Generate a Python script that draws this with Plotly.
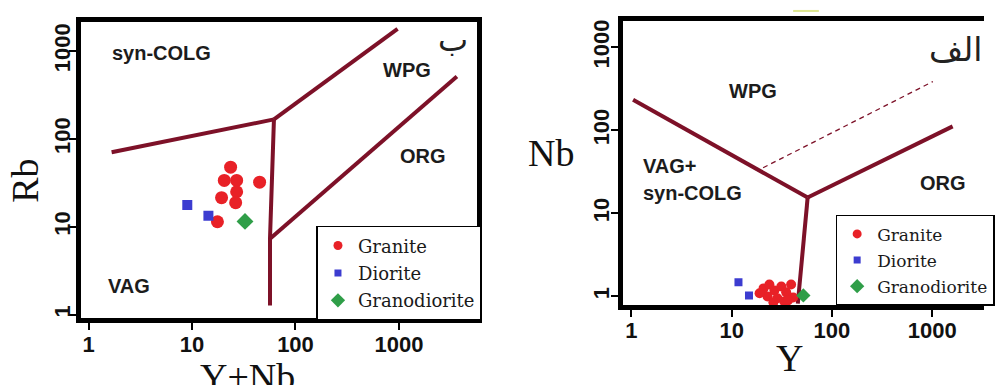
import plotly.graph_objects as go

# ---------------- data ----------------
TICK_VALS = [1, 10, 100, 1000]
TICK_TEXT = ["1", "10", "100", "1000"]

# Left panel: Rb vs (Y+Nb)
granite_ynb = [23.6, 20.5, 27.0, 27.0, 19.3, 26.4, 45.0, 17.6]
granite_rb = [47.7, 33.7, 33.7, 25.0, 21.4, 18.8, 32.2, 11.4]
diorite_ynb = [9.0, 14.4]
diorite_rb = [17.7, 13.3]
granodiorite_ynb = [32.5]
granodiorite_rb = [11.5]

# Left panel boundaries
b_vag_syn_x = [1.67, 61.9]
b_vag_syn_y = [70.5, 166.7]
b_syn_wpg_x = [61.9, 970]
b_syn_wpg_y = [166.7, 1789]
b_vag_wpg_x = [61.9, 56.7, 56.7]
b_vag_wpg_y = [166.7, 7.3, 1.27]
b_wpg_org_x = [56.7, 3631]
b_wpg_org_y = [7.3, 512]

# Right panel: Nb vs Y
granite_y = [20.8, 23.8, 26.7, 22.8, 28.6, 31.3, 35.0, 39.2, 41.1, 33.5, 26.1, 19.0, 36.6]
granite_nb = [1.25, 1.39, 1.18, 1.00, 0.95, 1.32, 1.12, 1.39, 0.97, 0.87, 0.85, 1.09, 0.90]
diorite_y = [11.7, 14.9]
diorite_nb = [1.48, 1.03]
granodiorite_y = [51.9]
granodiorite_nb = [1.03]

# Right panel boundaries
r_left_x = [1.04, 57.3]
r_left_y = [233, 15.5]
r_right_x = [57.3, 1600]
r_right_y = [15.5, 111.6]
r_down_x = [57.3, 45.7]
r_down_y = [15.5, 0.818]
r_dash_x = [20.6, 1016]
r_dash_y = [35.4, 386]

# ---------------- styles ----------------
W, H = 995, 385
LINE_COLOR = "#7d1128"
RED = "#e82127"
BLUE = "#3c3cd0"
GREEN = "#2f9e48"
LABEL_FONT = dict(family="Liberation Sans, Arial", size=20, color="#1c1c1c", weight=700)
TITLE_FONT = dict(family="Liberation Serif, Times New Roman", size=38, color="#111")


def px(x):
    return x / W


def py(y):
    return 1 - y / H


fig = go.Figure()

# boundaries
for xs, ys in [(b_vag_syn_x, b_vag_syn_y), (b_syn_wpg_x, b_syn_wpg_y),
               (b_vag_wpg_x, b_vag_wpg_y), (b_wpg_org_x, b_wpg_org_y)]:
    fig.add_trace(go.Scatter(x=xs, y=ys, mode="lines", xaxis="x", yaxis="y",
                             line=dict(color=LINE_COLOR, width=4), showlegend=False,
                             hoverinfo="skip"))
for xs, ys in [(r_left_x, r_left_y), (r_right_x, r_right_y), (r_down_x, r_down_y)]:
    fig.add_trace(go.Scatter(x=xs, y=ys, mode="lines", xaxis="x2", yaxis="y2",
                             line=dict(color=LINE_COLOR, width=4), showlegend=False,
                             hoverinfo="skip"))
fig.add_trace(go.Scatter(x=r_dash_x, y=r_dash_y, mode="lines", xaxis="x2", yaxis="y2",
                         line=dict(color=LINE_COLOR, width=1.3, dash="5px,4px"),
                         showlegend=False, hoverinfo="skip"))

# data points left
fig.add_trace(go.Scatter(x=granite_ynb, y=granite_rb, mode="markers", xaxis="x", yaxis="y",
                         marker=dict(color=RED, size=13, symbol="circle"), showlegend=False))
fig.add_trace(go.Scatter(x=diorite_ynb, y=diorite_rb, mode="markers", xaxis="x", yaxis="y",
                         marker=dict(color=BLUE, size=10, symbol="square"), showlegend=False))
fig.add_trace(go.Scatter(x=granodiorite_ynb, y=granodiorite_rb, mode="markers", xaxis="x", yaxis="y",
                         marker=dict(color=GREEN, size=13, symbol="diamond"), showlegend=False))
# data points right
fig.add_trace(go.Scatter(x=granite_y, y=granite_nb, mode="markers", xaxis="x2", yaxis="y2",
                         marker=dict(color=RED, size=10, symbol="circle"), showlegend=False))
fig.add_trace(go.Scatter(x=diorite_y, y=diorite_nb, mode="markers", xaxis="x2", yaxis="y2",
                         marker=dict(color=BLUE, size=8, symbol="square"), showlegend=False))
fig.add_trace(go.Scatter(x=granodiorite_y, y=granodiorite_nb, mode="markers", xaxis="x2", yaxis="y2",
                         marker=dict(color=GREEN, size=11, symbol="diamond"), showlegend=False))

# legend entries
for leg, xa, ya in [("legend", "x", "y"), ("legend2", "x2", "y2")]:
    for name, col, sym, sz, grp in [("Granite", RED, "circle", 9, "a"),
                                    ("Diorite", BLUE, "square", 7, "b"),
                                    ("Granodiorite", GREEN, "diamond", 11, "c")]:
        fig.add_trace(go.Scatter(x=[None], y=[None], mode="markers", xaxis=xa, yaxis=ya,
                                 name=name, legend=leg, legendgroup=leg + grp,
                                 marker=dict(color=col, size=sz, symbol=sym)))

axis_common = dict(type="log", showgrid=False, zeroline=False, showline=True,
                   linewidth=5, linecolor="black", ticks="outside", ticklen=7,
                   tickwidth=1.5, tickcolor="black", tickvals=TICK_VALS, ticktext=TICK_TEXT,
                   tickfont=dict(family="Liberation Sans, Arial", size=22, color="#111", weight=700))

fig.update_layout(
    width=W, height=H, margin=dict(l=0, r=0, t=0, b=0),
    paper_bgcolor="white", plot_bgcolor="white",
    xaxis=dict(axis_common, domain=[81.5 / W, 482.5 / W], range=[-0.077, 3.756],
               anchor="y", mirror=True, ticklabelstandoff=-5),
    yaxis=dict(axis_common, domain=[py(318), py(20)], range=[-0.043, 3.332],
               anchor="x", mirror=True, tickangle=-90, ticklabelstandoff=-10),
    xaxis2=dict(axis_common, domain=[629.5 / W, 1.0], range=[-0.088, 3.517],
                anchor="y2", mirror=True, ticklabelstandoff=-5),
    yaxis2=dict(axis_common, domain=[py(304.5), py(19.5)], range=[-0.102, 3.311],
                anchor="x2", mirror=False, tickangle=-90, ticklabelstandoff=-7),
    legend=dict(x=px(320), y=py(225), xanchor="left", yanchor="top", bgcolor="white",
                bordercolor="black", borderwidth=1.5, tracegroupgap=1, itemwidth=30,
                font=dict(family="DejaVu Serif", size=18, color="#1a1a1a")),
    legend2=dict(x=px(845), y=py(214), xanchor="left", yanchor="top", bgcolor="white",
                 bordercolor="black", borderwidth=1.5, tracegroupgap=1, itemwidth=30,
                 font=dict(family="DejaVu Serif", size=17, color="#1a1a1a")),
    showlegend=True,
)

annotations = [
    dict(text="syn-COLG", x=px(163), y=py(51), font=LABEL_FONT),
    dict(text="WPG", x=px(412), y=py(68), font=LABEL_FONT),
    dict(text="ORG", x=px(428), y=py(155), font=LABEL_FONT),
    dict(text="VAG", x=px(130), y=py(285), font=LABEL_FONT),
    dict(text="WPG", x=px(761), y=py(89), font=LABEL_FONT),
    dict(text="VAG+", x=px(648), y=py(165), font=LABEL_FONT, xanchor="left"),
    dict(text="syn-COLG", x=px(648), y=py(192), font=LABEL_FONT, xanchor="left"),
    dict(text="ORG", x=px(954), y=py(182), font=LABEL_FONT),
    dict(text="ب", x=px(458), y=py(38), font=dict(family="DejaVu Sans", size=32, color="#222")),
    dict(text="الف", x=px(966), y=py(48), font=dict(family="DejaVu Sans", size=33, color="#222")),
    dict(text="Rb", x=px(25), y=py(180), font=TITLE_FONT, textangle=-90),
    dict(text="Y+Nb", x=px(250), y=py(354), yanchor="top", font=TITLE_FONT),
    dict(text="Nb", x=px(557), y=py(152), font=TITLE_FONT),
    dict(text="Y", x=px(798), y=py(358), font=TITLE_FONT),
]
for a in annotations:
    a.setdefault("xanchor", "center")
    a.setdefault("yanchor", "middle")
    fig.add_annotation(xref="paper", yref="paper", showarrow=False, **a)

fig.add_shape(type="line", xref="paper", yref="paper", x0=px(802), x1=px(828),
              y0=py(9), y1=py(9), line=dict(color="#dde690", width=2))

fig.write_html("out.html")
